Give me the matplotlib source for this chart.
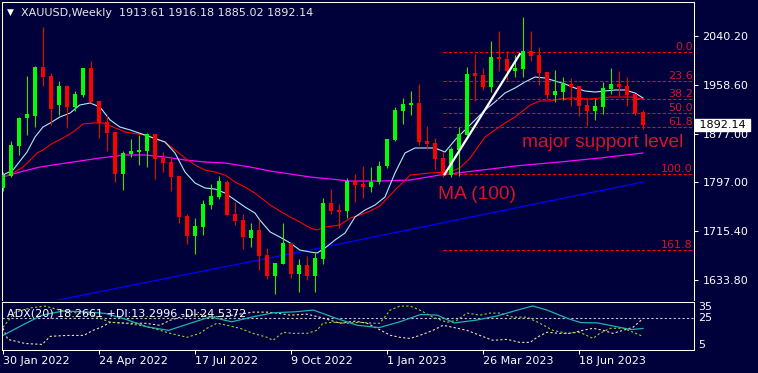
"""XAUUSD weekly candles with MAs, Fibonacci levels and ADX(20) panel (MT4 look)."""
import numpy as np
import matplotlib
matplotlib.use("Agg")
import matplotlib.pyplot as plt

# ---- weekly OHLC, 30 Jan 2022 .. 13 Aug 2023 ----
opens = [1787.1, 1807.1, 1857.0, 1903.6, 1907.0, 1988.6, 1973.6, 1925.3, 1956.9, 1922.0,
         1941.9, 1986.9, 1932.0, 1897.0, 1880.3, 1810.4, 1843.7, 1847.0, 1848.7, 1877.0,
         1837.0, 1830.4, 1807.1, 1740.5, 1707.1, 1722.1, 1758.8, 1772.1, 1797.1, 1743.8,
         1733.8, 1703.8, 1717.1, 1675.5, 1640.5, 1660.5, 1695.5, 1643.9, 1658.9, 1640.5,
         1668.8, 1762.1, 1750.4, 1748.8, 1798.7, 1793.7, 1788.7, 1797.1, 1823.7, 1867.0,
         1915.3, 1925.3, 1928.6, 1865.3, 1862.0, 1837.0, 1808.7, 1850.4, 1875.3, 1978.6,
         1975.3, 1955.3, 2005.2, 2001.9, 1981.9, 1985.2, 2015.2, 2008.6, 1980.3, 1941.9,
         1946.9, 1960.3, 1956.9, 1925.3, 1915.3, 1922.0, 1951.9, 1960.3, 1956.9, 1943.6,
         1913.61]
highs = [1813.7, 1865.3, 1905.3, 1973.6, 1990.2, 2055.2, 1978.6, 1965.3, 1958.6, 1948.6,
         1986.9, 1998.6, 1932.0, 1908.6, 1880.3, 1848.7, 1868.7, 1875.3, 1878.7, 1877.0,
         1847.0, 1840.4, 1807.1, 1743.8, 1737.1, 1767.1, 1793.7, 1807.1, 1800.4, 1763.8,
         1743.8, 1728.8, 1733.8, 1687.2, 1662.2, 1728.8, 1695.5, 1668.8, 1673.8, 1678.8,
         1770.4, 1785.4, 1760.4, 1803.7, 1810.4, 1823.7, 1822.0, 1832.0, 1868.7, 1922.0,
         1937.0, 1948.6, 1960.3, 1890.3, 1870.3, 1847.0, 1855.4, 1888.7, 1988.6, 2010.2,
         1986.9, 2031.9, 2048.5, 2015.2, 2008.6, 2071.8, 2048.5, 2021.9, 1980.3, 1983.6,
         1971.9, 1970.3, 1956.9, 1937.0, 1935.3, 1963.6, 1986.9, 1981.9, 1971.9, 1943.6,
         1916.18]
lows = [1782.1, 1805.4, 1842.0, 1875.3, 1888.7, 1956.9, 1892.0, 1908.6, 1887.0, 1915.3,
        1938.6, 1928.6, 1870.3, 1848.7, 1797.1, 1783.7, 1838.7, 1825.4, 1822.0, 1802.1,
        1813.7, 1782.1, 1728.8, 1693.8, 1677.2, 1708.8, 1752.1, 1768.8, 1742.1, 1725.5,
        1685.5, 1688.8, 1650.5, 1635.5, 1610.6, 1660.5, 1637.2, 1613.9, 1633.9, 1613.9,
        1660.5, 1743.8, 1720.5, 1737.1, 1763.8, 1770.4, 1780.4, 1793.7, 1820.4, 1865.3,
        1893.7, 1908.6, 1858.7, 1852.0, 1818.7, 1805.4, 1805.4, 1807.1, 1875.3, 1932.0,
        1950.3, 1946.9, 1981.9, 1966.9, 1971.9, 1971.9, 1998.6, 1958.6, 1935.3, 1930.3,
        1933.6, 1923.6, 1907.0, 1890.3, 1900.3, 1910.3, 1943.6, 1940.3, 1923.6, 1908.6,
        1885.02]
closes = [1808.7, 1858.7, 1903.6, 1910.3, 1988.6, 1971.9, 1918.6, 1956.9, 1922.0, 1943.6,
          1986.9, 1930.3, 1895.3, 1878.7, 1810.4, 1845.4, 1848.7, 1850.4, 1877.0, 1835.4,
          1828.7, 1805.4, 1738.8, 1707.1, 1723.8, 1760.4, 1773.8, 1798.7, 1742.1, 1732.1,
          1705.5, 1717.1, 1673.8, 1640.5, 1662.2, 1695.5, 1643.9, 1658.9, 1640.5, 1670.5,
          1762.1, 1748.8, 1747.1, 1798.7, 1792.1, 1788.7, 1797.1, 1823.7, 1868.7, 1917.0,
          1927.0, 1928.6, 1863.7, 1860.4, 1835.4, 1808.7, 1852.0, 1877.0, 1976.9, 1973.6,
          1955.3, 2005.2, 2001.9, 1981.9, 1986.9, 2015.2, 2006.9, 1978.6, 1941.9, 1948.6,
          1960.3, 1955.3, 1923.6, 1915.3, 1923.6, 1953.6, 1960.3, 1955.3, 1941.9, 1912.0,
          1892.14]

date_idx = [0, 12, 24, 36, 48, 60, 72]
date_labels = ["30 Jan 2022", "24 Apr 2022", "17 Jul 2022", "9 Oct 2022",
               "1 Jan 2023", "26 Mar 2023", "18 Jun 2023"]
price_ticks = [2040.20, 1958.60, 1877.00, 1797.00, 1715.40, 1633.80]

# moving averages (bar index, price)
fast_idx = [0, 1.25, 3, 4, 5, 5.9, 7.1, 8.4, 9.6, 10.9, 12.1, 13.4, 14.6, 15.9, 17.75, 20.25,
            21.5, 22.75, 24, 25.25, 26.5, 27.75, 29, 30.25, 31.5, 32.1, 33.4, 34.6, 35.9, 37.1,
            38.4, 39.25, 40.25, 41.5, 42.75, 44, 45.25, 46.5, 47.75, 49, 50.25, 51.5, 52.75, 54,
            55.25, 56.5, 57.75, 59, 60.25, 61.5, 62.75, 64, 65.25, 66.5, 67.75, 69, 70.25, 71.5,
            72.75, 74, 75.25, 76.5, 77.75, 79, 80]
fast_ma = [1808.7, 1817.0, 1847.0, 1872.0, 1888.7, 1895.3, 1905.3, 1912.0, 1925.3, 1928.6,
           1922.0, 1900.3, 1888.7, 1883.7, 1875.3, 1863.7, 1845.4, 1813.7, 1795.4, 1787.1,
           1785.4, 1778.7, 1767.1, 1755.4, 1745.4, 1733.8, 1713.8, 1705.5, 1695.5, 1683.8,
           1680.5, 1678.8, 1687.2, 1700.5, 1712.1, 1738.8, 1750.4, 1758.8, 1772.1, 1812.1,
           1845.4, 1853.7, 1853.7, 1853.7, 1847.0, 1867.0, 1883.7, 1900.3, 1917.0, 1930.3,
           1945.3, 1953.6, 1963.6, 1971.9, 1970.3, 1965.3, 1960.3, 1953.6, 1948.6, 1946.9,
           1948.6, 1950.3, 1950.3, 1945.3, 1937.0]
slow_idx = [0, 1.25, 2.5, 3.4, 4.25, 5, 6.25, 7.5, 8.75, 10, 11.25, 12.5, 13.75, 15.25, 17.75,
            20.25, 21.5, 22.75, 24, 25.25, 26.5, 27.75, 29, 30.25, 31.5, 32.1, 33.4, 34.6, 35.9,
            37.1, 38.4, 39.25, 40.25, 42.1, 43.4, 44.6, 45.9, 47.1, 49, 50.9, 53.4, 55.9, 57.1,
            58.4, 60.25, 61.5, 62.75, 64, 65.9, 67.1, 68.4, 69.6, 70.9, 73.4, 75.9, 78.4, 80]
slow_ma = [1805.4, 1812.1, 1822.0, 1833.7, 1845.4, 1850.4, 1862.0, 1870.3, 1880.3, 1893.7,
           1895.3, 1895.3, 1888.7, 1880.3, 1875.3, 1863.7, 1850.4, 1837.0, 1825.4, 1817.0,
           1813.7, 1808.7, 1797.1, 1788.7, 1778.7, 1772.1, 1758.8, 1748.8, 1738.8, 1730.5,
           1720.5, 1717.1, 1722.1, 1725.5, 1737.1, 1742.1, 1748.8, 1757.1, 1783.7, 1808.7,
           1812.1, 1813.7, 1820.4, 1837.0, 1872.0, 1883.7, 1895.3, 1905.3, 1925.3, 1932.0,
           1932.0, 1935.3, 1937.0, 1935.3, 1938.6, 1938.6, 1935.3]
ma100_idx = [0, 2.1, 4.6, 7.1, 9.6, 12.1, 15.25, 17.75, 20.25, 22.75, 25.25, 27.75, 30.9, 33.4,
             35.9, 38.4, 40.9, 43.4, 47.1, 50.9, 54.6, 58.9, 64, 69.6, 74.6, 80]
ma100 = [1805.4, 1813.7, 1822.0, 1827.1, 1832.0, 1837.0, 1842.0, 1842.0, 1838.7, 1833.7,
         1830.4, 1828.7, 1822.0, 1815.4, 1810.4, 1805.4, 1802.1, 1798.7, 1798.7, 1800.4,
         1808.7, 1815.4, 1823.7, 1830.4, 1837.0, 1845.4]
ma200_idx = [0, 20, 40, 60, 80]
ma200 = [1582.2, 1635.5, 1688.3, 1742.8, 1797.1]

# Fibonacci retracement (swing low -> swing high)
fib_low, fib_high = 1809.9, 2014.1
fib_start = 55
fib_ratios = [0.0, 23.6, 38.2, 50.0, 61.8, 100.0, 161.8]
trend_idx = [55.2, 64.6]
trend_price = [fib_low, 2010.0]

# ADX(20) panel
adx_idx = [0, 2.8, 4.9, 7.5, 10.1, 12.8, 15.4, 18, 20.7, 23.3, 25.9, 28.6, 31.2, 33.8, 36.5,
           38.8, 41.7, 44.3, 47, 49.6, 52.2, 54.3, 56.4, 59.1, 61.7, 64.3, 66.2, 68, 70.6,
           72.2, 74.3, 76.4, 78.5, 80]
adx = [13.9, 21.4, 26.7, 29.3, 28.8, 27.8, 24.0, 19.3, 17.1, 21.4, 25.6, 22.5, 25.6, 28.2,
       28.8, 29.9, 24.6, 20.3, 18.8, 22.5, 27.1, 26.7, 21.8, 23.5, 26.1, 29.9, 32.5, 29.9,
       24.6, 22.0, 21.8, 19.7, 17.6, 18.27]
pdi_idx = [0, 0.5, 1.5, 3.4, 5.25, 7.1, 9.25, 10.9, 12.1, 13.4, 15.25, 17.1, 18.75, 20.9, 23,
           24.6, 25.5, 26.75, 28, 29.6, 31.25, 33, 33.75, 35, 36.25, 38, 39.25, 40, 41.25, 43,
           44.6, 46.25, 47.1, 48.4, 49.6, 50.9, 52.1, 53.75, 55.5, 56.75, 58, 59.6, 60.9, 62.1,
           63.75, 65.5, 67.1, 68.75, 70.5, 72.1, 73.75, 74.6, 75.9, 77.5, 78.75, 80]
pdi = [19.0, 22.2, 28.6, 31.2, 32.4, 29.9, 28.0, 27.3, 24.8, 22.2, 21.6, 20.3, 18.4, 15.2, 12.7,
       15.2, 18.4, 21.6, 20.3, 18.4, 15.2, 12.7, 10.8, 15.9, 15.2, 15.2, 17.1, 21.6, 22.2, 21.6,
       22.2, 21.6, 21.6, 29.9, 32.4, 32.4, 29.9, 25.4, 22.2, 23.5, 28.0, 26.7, 28.0, 28.0,
       25.4, 25.4, 21.6, 17.1, 15.2, 15.9, 12.0, 15.2, 18.4, 18.4, 15.9, 13.30]
mdi_idx = [0, 0.6, 2.75, 4.9, 5.9, 8, 10.1, 11.25, 12.25, 13.4, 15.4, 17.75, 19.6, 20.9, 23,
           24.6, 26.25, 28.75, 31.25, 33, 34.25, 35.9, 38, 39.6, 40.9, 42.1, 44, 45.5, 46.75,
           48.4, 49.6, 50.9, 52.1, 53.75, 55, 56.25, 58, 59.6, 61.25, 63, 64.6, 65.9, 66.75, 68,
           69.6, 70.9, 72.5, 73.75, 75, 76.25, 77.5, 78.75, 80]
mdi = [18.4, 11.4, 8.8, 8.2, 13.3, 13.9, 13.9, 17.1, 19.0, 22.2, 21.6, 21.6, 20.3, 23.5, 26.7,
       27.3, 25.4, 26.7, 28.6, 28.6, 28.0, 26.7, 27.3, 25.4, 23.5, 21.6, 22.9, 21.6, 18.4,
       14.0, 12.7, 12.0, 13.9, 17.1, 20.3, 19.0, 17.1, 13.9, 10.8, 11.4, 9.5, 9.5, 12.7, 15.9,
       15.2, 15.2, 17.1, 18.4, 17.1, 15.2, 17.1, 19.0, 24.54]

BG = "#00003a"
UP, DOWN = "#00ff00", "#ff0000"
TXT_RED = "#d41525"
W, H = 758, 373

fig = plt.figure(figsize=(W / 100, H / 100), dpi=100, facecolor=BG)


def px_axes(x0, y0, x1, y1):
    """axes from a pixel box measured from the top-left corner"""
    a = fig.add_axes([x0 / W, 1 - y1 / H, (x1 - x0) / W, (y1 - y0) / H])
    a.set_facecolor(BG)
    for s in a.spines.values():
        s.set_color("white")
        s.set_linewidth(0.75)
    return a


ax = px_axes(2, 2, 694, 300)
ax2 = px_axes(2, 302, 694, 349.5)
ax.spines["bottom"].set_visible(False)
xlim = (-0.125, 86.375)

# ---- main panel ----
o, h, l, c = map(np.array, (opens, highs, lows, closes))
idx = np.arange(len(o))
col = np.where(c >= o, UP, DOWN)
ax.vlines(idx, l, h, colors=col, lw=0.75, zorder=3)
ax.bar(idx, np.maximum(np.abs(c - o), 1.7), bottom=np.minimum(o, c), width=0.62,
       color=col, lw=0, zorder=3)

ax.plot(ma200_idx, ma200, color="#0000ff", lw=0.9, zorder=2)
ax.plot(ma100_idx, ma100, color="#ff00ff", lw=0.9, zorder=2)
ax.plot(slow_idx, slow_ma, color="#ff0000", lw=0.8, zorder=2)
ax.plot(fast_idx, fast_ma, color="#afeeee", lw=0.8, zorder=2)

rng = fib_high - fib_low
for r in fib_ratios:
    y = fib_high - rng * r / 100
    ax.hlines(y, fib_start, xlim[1], colors="#ff0000", lw=0.8,
              linestyles=(0, (2.9, 1.8)), zorder=2)
    ax.text(86.2, y, f"{r:.1f}", color=TXT_RED, fontsize=8, ha="right", va="bottom")
ax.plot(trend_idx, trend_price, color="white", lw=1.6, zorder=4)

ax.text(64.9, 1855.3, "major support level", color=TXT_RED, fontsize=13.8,
        family="Liberation Sans", ha="left", va="baseline")
ax.text(54.4, 1768.8, "MA (100)", color=TXT_RED, fontsize=13.8,
        family="Liberation Sans", ha="left", va="baseline")

ax.set_xlim(*xlim)
ax.set_ylim(1600.6, 2096.8)
ax.set_xticks([])
ax.yaxis.tick_right()
ax.set_yticks(price_ticks)
ax.set_yticklabels([f"{v:.2f}" for v in price_ticks])
ax.tick_params(axis="y", colors="white", length=3, width=0.75, pad=3, labelsize=8)

ax.annotate(f" {c[-1]:.2f} ", xy=(1, c[-1]), xycoords=("axes fraction", "data"),
            xytext=(1.5, 0), textcoords="offset points", ha="left", va="center",
            fontsize=8, color="black", zorder=10, annotation_clip=False,
            bbox=dict(boxstyle="square,pad=0.1", fc="white", ec="white"))

fig.text(7 / W, 1 - 12.5 / H, "\u25bc", color="white", fontsize=6.5, va="center")
fig.text(21 / W, 1 - 12.5 / H,
         f"XAUUSD,Weekly  {o[-1]:.2f} {h[-1]:.2f} {l[-1]:.2f} {c[-1]:.2f}",
         color="#e8e8e8", fontsize=8, va="center")

# ---- ADX panel ----
ax2.axhline(25, color="#c8c8c8", lw=0.8, ls=(0, (2, 2)))
ax2.plot(mdi_idx, mdi, color="#f5deb3", lw=0.8, ls=(0, (2, 2)))
ax2.plot(pdi_idx, pdi, color="#9acd32", lw=0.8, ls=(0, (2, 2)))
ax2.plot(adx_idx, adx, color="#20b2aa", lw=0.9)
ax2.set_xlim(*xlim)
ax2.set_ylim(5, 35)
ax2.set_yticks([])
ax2.set_xticks(date_idx)
ax2.set_xticklabels(date_labels, ha="left")
ax2.tick_params(axis="x", colors="white", length=3, width=0.75, pad=1.5, labelsize=8)
for v, va in ((35, "top"), (25, "center"), (5, "bottom")):
    ax2.annotate(str(v), xy=(1, v), xycoords=("axes fraction", "data"), xytext=(3, 0),
                 textcoords="offset points", ha="left", va=va, color="white",
                 fontsize=8, annotation_clip=False)
fig.text(7 / W, 1 - 314 / H,
         f"ADX(20) {18.2661:.4f} +DI:{13.2996:.4f} -DI:{24.5372:.4f}",
         color="white", fontsize=8, va="center")

fig.savefig("out.png", dpi=100, facecolor=BG)
